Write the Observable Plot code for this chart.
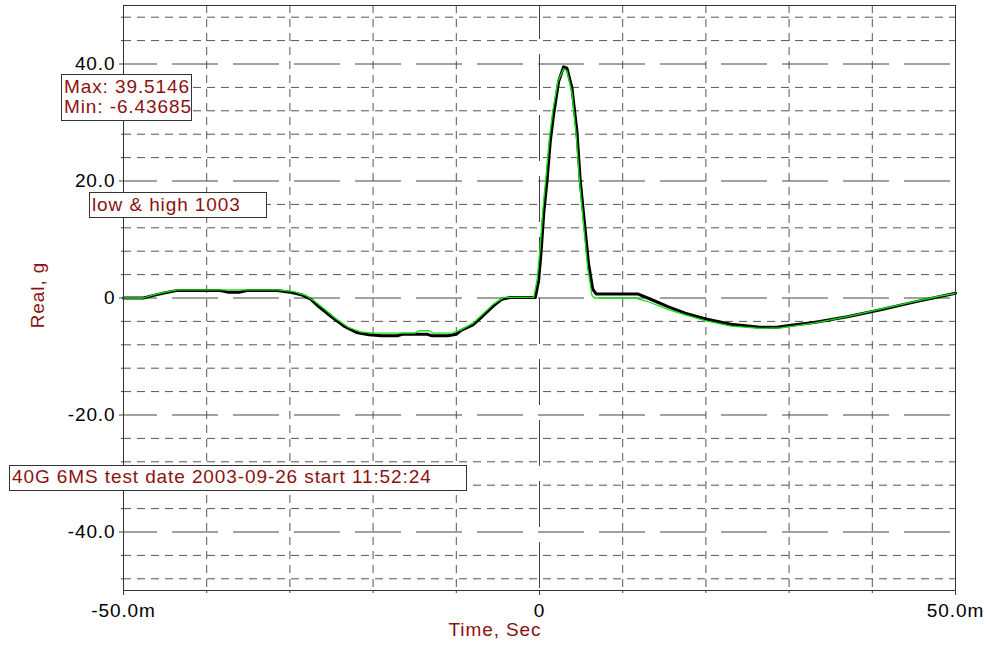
<!DOCTYPE html>
<html>
<head>
<meta charset="utf-8">
<script src="https://cdn.jsdelivr.net/npm/d3@7"></script>
<script src="https://cdn.jsdelivr.net/npm/@observablehq/plot@0.6"></script>
<style>
  body { margin: 0; background: #fff; }
  #wrap { position: relative; width: 987px; height: 647px; font-family: "Liberation Sans", Arial, sans-serif; overflow: hidden; }
  #wrap svg { position: absolute; left: 0; top: 0; }
  .note { position: absolute; box-sizing: border-box; background: #fff; border: 1px solid #333; color: #8b1212;
          font-size: 19px; letter-spacing: 0.9px; line-height: 20px; white-space: pre; }
  .title { position: absolute; color: #8b1212; font-size: 19px; letter-spacing: 0.9px; white-space: pre; line-height: 20px; }
</style>
</head>
<body>
<div id="wrap"></div>
<script>
// ---- data (time in ms, acceleration in g) ----
const blackTime = [-50, -47.6, -46.5, -45, -43.5, -38.5, -37.5, -36, -35, -31.5, -30, -28.5, -27.5, -26.5, -25, -23.5, -22, -20.5, -19, -17, -16.5, -13.5, -13, -11, -10, -9.5, -8, -7, -5.5, -4.5, -3.5, -0.5, -0.1, 0.2, 0.5, 0.9, 1.3, 1.7, 2.3, 2.9, 3.3, 3.9, 4.5, 4.9, 5.5, 5.9, 6.4, 6.8, 11.8, 13.5, 15.5, 17.5, 20, 23, 26.5, 28.5, 30, 33, 37, 41, 45, 48, 50];
const blackReal = [0, 0, 0.4, 0.9, 1.3, 1.3, 1.0, 1.0, 1.3, 1.3, 1.0, 0.5, -0.2, -1.5, -3.2, -4.8, -5.9, -6.3, -6.43685, -6.43685, -6.2, -6.2, -6.43685, -6.43685, -6.2, -5.6, -4.6, -3.3, -1.3, -0.2, 0.1, 0.1, 3, 8, 14.3, 20, 26.8, 31.4, 37, 39.5146, 39.3, 35.9, 28.5, 20, 11.5, 5.8, 1.5, 0.7, 0.7, -0.3, -1.5, -2.6, -3.6, -4.5, -5.0, -5.0, -4.7, -4.2, -3.2, -2.0, -0.7, 0.2, 0.8];

const greenTime = [-50, -47.6, -46.5, -45, -43.5, -31.5, -29.5, -28, -27, -26, -24.5, -23, -21.5, -20, -15, -14.5, -13.3, -12.8, -10.5, -9.5, -8, -7, -5.5, -4.3, -0.7, -0.3, 0.1, 0.4, 0.8, 1.2, 1.6, 2.2, 2.9, 3.3, 3.9, 4.4, 4.8, 5.4, 5.8, 6.3, 6.6, 11.5, 13, 15.5, 17.5, 20, 23, 26.5, 29, 30.5, 33, 37, 41, 45, 48, 50];
const greenReal = [0, 0, 0.5, 1.0, 1.4, 1.4, 1.1, 0.4, -0.6, -1.7, -3.5, -5.0, -5.8, -6.0, -6.0, -5.6, -5.6, -6.0, -6.0, -5.5, -4.3, -3.0, -1.0, 0.1, 0.1, 3, 9, 15, 21, 27.5, 32, 37, 39.2, 38.8, 35, 28, 20, 11, 5, 0.5, 0, 0, -0.6, -2.0, -2.9, -3.9, -4.8, -5.2, -5.1, -4.8, -4.3, -3.2, -1.9, -0.6, 0.3, 0.8];

// ---- axes / grid values ----
const yMajor = [-40, -20, 0, 20, 40];
const yMinor = [-48, -44, -36, -32, -28, -24, -16, -12, -8, -4, 4, 8, 12, 16, 24, 28, 32, 36, 44, 48];
const xMajor = [0];
const xMinor = [-40, -30, -20, -10, 10, 20, 30, 40];
const xAllTicks = [-50, -40, -30, -20, -10, 0, 10, 20, 30, 40, 50];
const xLabelTicks = [-50, 0, 50];

const notes = [
  { text: "Max: 39.5146\nMin: -6.43685", left: 61, top: 74, width: 131, height: 47, pad: "2px 0 0 2px" },
  { text: "low & high 1003", left: 89, top: 192, width: 178, height: 26, pad: "2px 0 0 2px" },
  { text: "40G 6MS test date 2003-09-26 start 11:52:24", left: 9, top: 465, width: 458, height: 26, pad: "1px 0 0 2px" }
];

const black = blackTime.map((t, i) => ({ t, g: blackReal[i] }));
const green = greenTime.map((t, i) => ({ t, g: greenReal[i] }));

const fmtY = d => d === 0 ? "0" : d.toFixed(1);
const fmtX = d => d === 0 ? "0" : d.toFixed(1) + "m";

const chart = Plot.plot({
  width: 987,
  height: 647,
  marginLeft: 123,
  marginRight: 32,
  marginTop: 5,
  marginBottom: 57,
  x: { domain: [-50, 50] },
  y: { domain: [-50, 50] },
  style: { fontFamily: "'Liberation Sans', Arial, sans-serif", fontSize: "19px", letterSpacing: "0.9px", background: "#fff", color: "#000", overflow: "visible" },
  marks: [
    Plot.ruleY(yMinor, { stroke: "#555", strokeWidth: 1, strokeDasharray: "8,6" }),
    Plot.ruleX(xMinor, { stroke: "#555", strokeWidth: 1, strokeDasharray: "8,6" }),
    Plot.ruleY(yMajor, { stroke: "#444", strokeWidth: 1, strokeDasharray: "46,15", strokeDashoffset: 12 }),
    Plot.ruleX(xMajor, { stroke: "#444", strokeWidth: 1, strokeDasharray: "46,15", strokeDashoffset: 12 }),
    Plot.line(black, { x: "t", y: "g", stroke: "#000", strokeWidth: 3, strokeLinejoin: "round" }),
    Plot.line(green, { x: "t", y: "g", stroke: "#14e014", strokeWidth: 1.3, strokeLinejoin: "round" }),
    Plot.frame({ stroke: "#333", strokeWidth: 1 }),
    Plot.axisY({ ticks: yMinor, tickSize: 2, tickFormat: () => "", stroke: "#444", label: null }),
    Plot.axisY({ ticks: yMajor, tickSize: 4, tickPadding: 4, tickFormat: fmtY, stroke: "#444", fill: "#000", label: null }),
    Plot.axisX({ ticks: xAllTicks, tickSize: 3, tickFormat: () => "", stroke: "#444", label: null }),
    Plot.axisX({ ticks: xLabelTicks, tickSize: 5, tickPadding: 8, tickFormat: fmtX, stroke: "#444", fill: "#000", label: null })
  ]
});

const wrap = document.getElementById("wrap");
wrap.appendChild(chart);

for (const n of notes) {
  const d = document.createElement("div");
  d.className = "note";
  d.textContent = n.text;
  Object.assign(d.style, { left: n.left + "px", top: n.top + "px", width: n.width + "px", height: n.height + "px", padding: n.pad });
  wrap.appendChild(d);
}

const yTitle = document.createElement("div");
yTitle.className = "title";
yTitle.textContent = "Real, g";
Object.assign(yTitle.style, { left: "38px", top: "295px", transform: "translate(-50%, -50%) rotate(-90deg)" });
wrap.appendChild(yTitle);

const xTitle = document.createElement("div");
xTitle.className = "title";
xTitle.textContent = "Time, Sec";
Object.assign(xTitle.style, { left: "495px", top: "630px", transform: "translate(-50%, -50%)" });
wrap.appendChild(xTitle);
</script>
</body>
</html>
